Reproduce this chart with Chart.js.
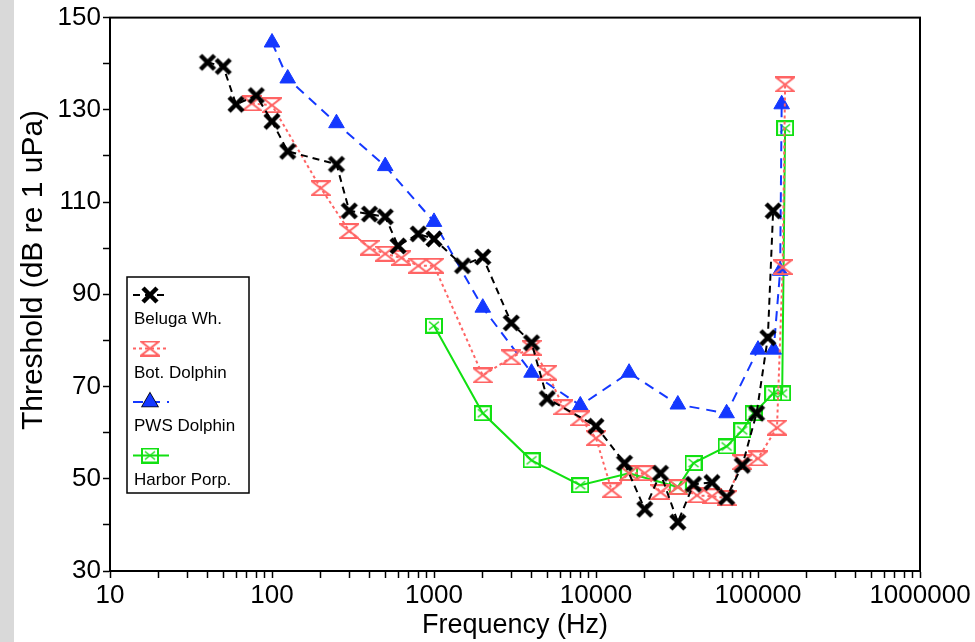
<!DOCTYPE html>
<html>
<head>
<meta charset="utf-8">
<script src="https://cdn.jsdelivr.net/npm/chart.js@4/dist/chart.umd.min.js"></script>
<style>
  html, body { margin: 0; padding: 0; background: #fff; }
  #wrap { position: relative; width: 975px; height: 642px; }
</style>
</head>
<body>
<div id="wrap"><canvas id="myChart" width="975" height="642"></canvas></div>
<script>
// data
const belugaFreq = [40, 50, 60, 80, 100, 125, 250, 300, 400, 500, 600, 800, 1000, 1500, 2000, 3000, 4000, 5000, 10000, 15000, 20000, 25000, 32000, 40000, 52000, 64000, 80000, 98000, 115000, 124000];
const belugaThr = [140.3, 139.4, 131.2, 133.1, 127.5, 121, 118.2, 108.1, 107.4, 106.8, 100.5, 103.1, 102, 96.2, 98.1, 83.8, 79.5, 67.4, 61.4, 53.4, 43.4, 51.2, 40.6, 48.8, 49.2, 46, 52.9, 64.2, 80.6, 108.1];

const botFreq = [75, 100, 200, 300, 400, 500, 630, 800, 1000, 2000, 3000, 4000, 5000, 6300, 8000, 10000, 12500, 16000, 20000, 25000, 32000, 42000, 52000, 64000, 80000, 100000, 131000, 142000, 147000];
const botThr = [131.4, 131, 113, 103.7, 100.1, 98.8, 97.9, 96.2, 96.2, 72.4, 76.3, 78.4, 73, 65.5, 63.1, 58.8, 47.5, 51.2, 51.2, 47.1, 48.2, 46.4, 46.2, 45.8, 53.6, 54.4, 61.1, 95.9, 135.5];

const pwsFreq = [100, 125, 250, 500, 1000, 2000, 4000, 8000, 16000, 32000, 64000, 100000, 125000, 137000, 140000];
const pwsThr = [144.6, 136.8, 127.1, 117.8, 105.7, 87.1, 73, 65.9, 73, 66.1, 64.2, 78, 78, 95.1, 131.2];

const harborFreq = [1000, 2000, 4000, 8000, 16000, 32000, 40000, 64000, 80000, 94000, 124000, 141000, 147000];
const harborThr = [83.2, 64.2, 54, 48.6, 51.2, 48.2, 53.4, 57, 60.5, 64.2, 68.5, 68.5, 126];

const seriesNames = ['Beluga Wh.', 'Bot. Dolphin', 'PWS Dolphin', 'Harbor Porp.'];
const xTickLabels = ['10', '100', '1000', '10000', '100000', '1000000'];
const yTickLabels = ['30', '50', '70', '90', '110', '130', '150'];

const FONT = "'Liberation Sans', Arial, sans-serif";

function mark(w, h, draw) {
    const c = document.createElement('canvas');
    c.width = w; c.height = h;
    const g = c.getContext('2d');
    draw(g);
    return c;
}

const blackX = mark(20, 20, g => {
    g.strokeStyle = '#000'; g.lineWidth = 4.5;
    g.beginPath();
    g.moveTo(3, 3); g.lineTo(17, 17);
    g.moveTo(17, 3); g.lineTo(3, 17);
    g.stroke();
});
const redHour = mark(20, 16, g => {
    g.strokeStyle = '#ff6464'; g.lineWidth = 2;
    g.beginPath();
    g.moveTo(1, 1); g.lineTo(19, 1); g.lineTo(1, 15); g.lineTo(19, 15); g.closePath();
    g.stroke();
});
const greenBox = mark(18, 16, g => {
    g.strokeStyle = '#12e012'; g.lineWidth = 2;
    g.strokeRect(1, 1, 16, 14);
    g.lineWidth = 1.5;
    g.beginPath();
    g.moveTo(4, 4); g.lineTo(14, 12);
    g.moveTo(14, 4); g.lineTo(4, 12);
    g.stroke();
});

function pts(xs, ys) {
    return xs.map((x, i) => ({ x: x, y: ys[i] }));
}

const bgPlugin = {
    id: 'bg',
    beforeDraw(chart) {
        const ctx = chart.ctx;
        ctx.save();
        ctx.fillStyle = '#fff';
        ctx.fillRect(0, 0, chart.width, chart.height);
        ctx.fillStyle = '#d9d9d9';
        ctx.fillRect(0, 0, 14, chart.height);
        ctx.restore();
    }
};

const framePlugin = {
    id: 'frame',
    afterDraw(chart) {
        const ctx = chart.ctx;
        const a = chart.chartArea;
        ctx.save();
        // frame
        ctx.strokeStyle = '#000';
        ctx.lineWidth = 2;
        ctx.strokeRect(a.left, a.top, a.right - a.left, a.bottom - a.top);

        // axis titles
        ctx.fillStyle = '#000';
        ctx.textAlign = 'center';
        ctx.textBaseline = 'middle';
        ctx.font = '27px ' + FONT;
        ctx.fillText('Frequency (Hz)', 515, 626);
        ctx.save();
        ctx.translate(34, 270);
        ctx.rotate(-Math.PI / 2);
        ctx.font = '30px ' + FONT;
        ctx.fillText('Threshold (dB re 1 uPa)', 0, 0);
        ctx.restore();

        // legend
        const bx = 127, by = 277, bw = 122, bh = 216;
        ctx.fillStyle = '#fff';
        ctx.fillRect(bx, by, bw, bh);
        ctx.strokeStyle = '#000';
        ctx.lineWidth = 1.5;
        ctx.strokeRect(bx, by, bw, bh);
        chart.data.datasets.forEach((ds, i) => {
            const y = 295 + i * 53.5;
            ctx.save();
            ctx.strokeStyle = ds.borderColor;
            ctx.lineWidth = ds.borderWidth;
            ctx.setLineDash(ds.borderDash || []);
            ctx.beginPath();
            ctx.moveTo(133, y);
            ctx.lineTo(169, y);
            ctx.stroke();
            ctx.restore();
            const ps = ds.pointStyle;
            if (ps instanceof HTMLCanvasElement) {
                ctx.drawImage(ps, 150 - ps.width / 2, y - ps.height / 2);
            } else {
                Chart.helpers.drawPoint(ctx, {
                    pointStyle: ps, radius: ds.pointRadius, borderWidth: 1
                }, 150, y);
                ctx.fillStyle = ds.pointBackgroundColor;
                ctx.fill();
            }
            ctx.fillStyle = '#000';
            ctx.textAlign = 'left';
            ctx.textBaseline = 'alphabetic';
            ctx.font = '17px ' + FONT;
            ctx.fillText(seriesNames[i], 134, y + 29);
        });
        ctx.restore();
    }
};

const ctx = document.getElementById('myChart').getContext('2d');

const myChart = new Chart(ctx, {
    type: 'scatter',
    data: {
        datasets: [{
            label: seriesNames[0],
            data: pts(belugaFreq, belugaThr),
            showLine: true,
            borderColor: '#000',
            borderWidth: 2,
            borderDash: [7, 5],
            pointStyle: blackX,
            pointRadius: 10,
            pointBackgroundColor: '#000'
        }, {
            label: seriesNames[1],
            data: pts(botFreq, botThr),
            showLine: true,
            borderColor: '#ff6464',
            borderWidth: 2,
            borderDash: [3, 3],
            pointStyle: redHour,
            pointRadius: 9,
            pointBackgroundColor: '#ff6464'
        }, {
            label: seriesNames[2],
            data: pts(pwsFreq, pwsThr),
            showLine: true,
            borderColor: '#1438ff',
            borderWidth: 2,
            borderDash: [10, 7],
            pointStyle: 'triangle',
            pointRadius: 9,
            pointBorderWidth: 1,
            pointBackgroundColor: '#1438ff',
            pointBorderColor: '#1438ff'
        }, {
            label: seriesNames[3],
            data: pts(harborFreq, harborThr),
            showLine: true,
            borderColor: '#12e012',
            borderWidth: 2,
            pointStyle: greenBox,
            pointRadius: 9,
            pointBackgroundColor: '#12e012'
        }]
    },
    options: {
        responsive: false,
        animation: false,
        events: [],
        layout: { padding: { left: 0, top: 16, right: 55, bottom: 0 } },
        plugins: {
            legend: { display: false },
            tooltip: { enabled: false }
        },
        elements: { line: { tension: 0, fill: false } },
        scales: {
            x: {
                type: 'logarithmic',
                min: 10,
                max: 1000000,
                afterFit(scale) { scale.height = 71; },
                afterBuildTicks(scale) {
                    const t = [];
                    for (let e = 1; e < 6; e++) {
                        for (let m = 1; m < 10; m++) t.push({ value: m * Math.pow(10, e) });
                    }
                    t.push({ value: 1000000 });
                    scale.ticks = t;
                },
                ticks: {
                    autoSkip: false,
                    maxRotation: 0,
                    padding: 2,
                    color: '#000',
                    font: { family: FONT, size: 26 },
                    callback(v) {
                        const i = xTickLabels.indexOf(String(v));
                        return i >= 0 ? xTickLabels[i] : '';
                    }
                },
                grid: {
                    drawOnChartArea: false,
                    tickLength: 7,
                    tickColor: '#000',
                    tickWidth: 1.5
                },
                border: { color: '#000', width: 2 }
            },
            y: {
                min: 30,
                max: 150,
                afterFit(scale) { scale.width = 110; },
                ticks: {
                    stepSize: 10,
                    padding: 2,
                    color: '#000',
                    font: { family: FONT, size: 26 },
                    callback(v) {
                        return yTickLabels.includes(String(v)) ? String(v) : '';
                    }
                },
                grid: {
                    drawOnChartArea: false,
                    tickLength: 7,
                    tickColor: '#000',
                    tickWidth: 1.5
                },
                border: { color: '#000', width: 2 }
            }
        }
    },
    plugins: [bgPlugin, framePlugin]
});
</script>
</body>
</html>
